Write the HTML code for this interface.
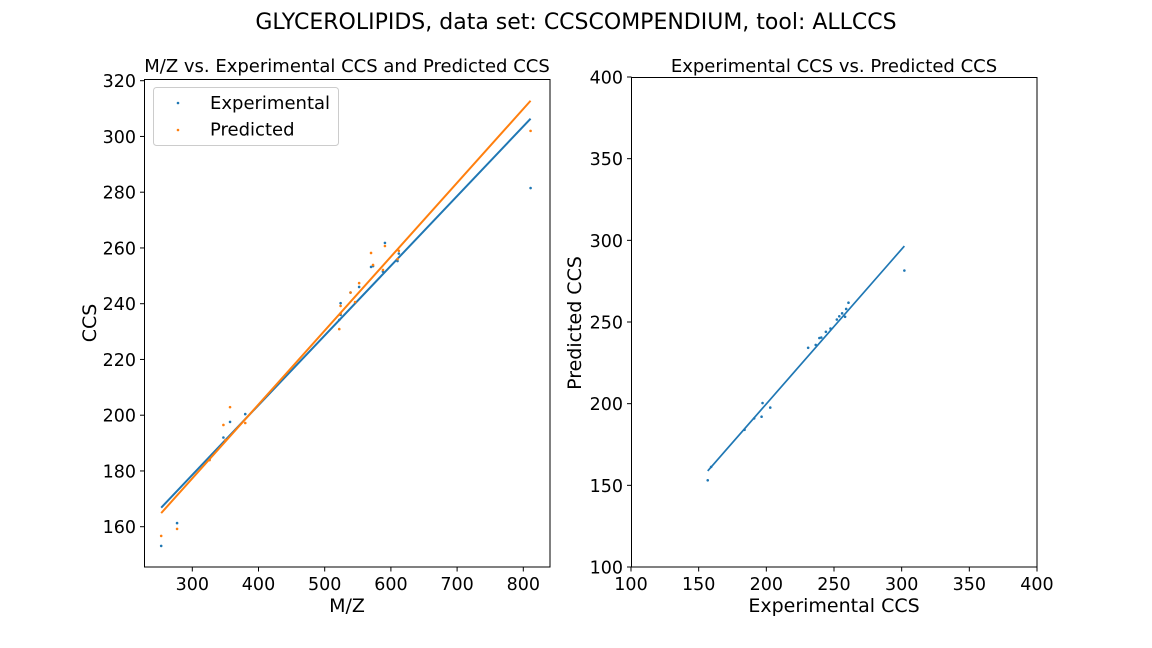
<!DOCTYPE html>
<html><head><meta charset="utf-8"><style>
html,body{margin:0;padding:0;background:#fff;}
svg{display:block;font-family:"DejaVu Sans","Liberation Sans",sans-serif;}
</style></head><body>
<svg id="fig" width="1152" height="648" viewBox="0 0 1152 648" xmlns="http://www.w3.org/2000/svg">
<rect width="1152" height="648" fill="#fff"/>
<text x="576" y="29" font-size="22" text-anchor="middle" fill="#000">GLYCEROLIPIDS, data set: CCSCOMPENDIUM, tool: ALLCCS</text>
<g id="left"></g>
<g id="right"></g>
</svg>
<script>
const mz = [253,277,326,347,350,357,380,522,524,524,539,546,552,570,573,588,591,610,612,811];
const experimental = [153.1,161.3,184,192,191,197.6,200.4,234.2,240.2,236,244,240.5,246,253.2,253.5,251.5,261.8,255.3,258,281.5];
const predicted = [156.7,159.2,183.9,196.5,191,202.9,197.2,230.9,239.2,236.5,244,240.6,247.4,258.2,253.9,252.1,260.7,256,259,302];
const leftXTicks = [300,400,500,600,700,800];
const leftYTicks = [160,180,200,220,240,260,280,300,320];
const rightTicks = [100,150,200,250,300,350,400];

const NS = "http://www.w3.org/2000/svg";
function mk(parent, tag, attrs, text){
  const e = document.createElementNS(NS, tag);
  for (const k in attrs) e.setAttribute(k, attrs[k]);
  if (text !== undefined) e.textContent = text;
  parent.appendChild(e);
  return e;
}
function fit(xs, ys){
  const n = xs.length; let sx=0,sy=0,sxx=0,sxy=0;
  for (let i=0;i<n;i++){sx+=xs[i];sy+=ys[i];sxx+=xs[i]*xs[i];sxy+=xs[i]*ys[i];}
  const b=(n*sxy-sx*sy)/(n*sxx-sx*sx); return {b:b,a:(sy-b*sx)/n};
}
const BLUE="#1f77b4", ORANGE="#ff7f0e";
const TF = 17.5, AF = 19;

// LEFT
const L = document.getElementById('left');
const lx = v => 192.3 + (v-300)*0.662;
const ly = v => 526.7 - (v-160)*2.7875;
const lf = mk(L,'rect',{x:144.5,y:79.5,width:405.5,height:487.5,fill:'none',stroke:'#000','stroke-width':1});
 
leftXTicks.forEach(t=>{
  const tl = mk(L,'line',{x1:lx(t),x2:lx(t),y1:567,y2:571.5,stroke:'#000'});
   
  const tx = mk(L,'text',{x:lx(t),y:590,'font-size':TF,'text-anchor':'middle'},t);
   
});
leftYTicks.forEach(t=>{
  const tl = mk(L,'line',{x1:140,x2:144.5,y1:ly(t),y2:ly(t),stroke:'#000'});
   
  const tx = mk(L,'text',{x:136,y:ly(t)+6.5,'font-size':TF,'text-anchor':'end'},t);
   
});
let e;
e = mk(L,'text',{x:347,y:612,'font-size':AF,'text-anchor':'middle'},'M/Z');
 
e = mk(L,'text',{x:96,y:323,'font-size':AF,'text-anchor':'middle',transform:'rotate(-90 96 323)'},'CCS');
 
e = mk(L,'text',{x:347,y:72,'font-size':18,'text-anchor':'middle'},'M/Z vs. Experimental CCS and Predicted CCS');
 

const fe = fit(mz, experimental), fp = fit(mz, predicted);
const mmin = Math.min(...mz), mmax = Math.max(...mz);
mz.forEach((m,i)=>{
  const c = mk(L,'circle',{cx:lx(m),cy:ly(experimental[i]),r:1.3,fill:BLUE});
   
});
e = mk(L,'line',{x1:lx(mmin),y1:ly(fe.a+fe.b*mmin),x2:lx(mmax),y2:ly(fe.a+fe.b*mmax),stroke:BLUE,'stroke-width':2});
 
mz.forEach((m,i)=>{
  const c = mk(L,'circle',{cx:lx(m),cy:ly(predicted[i]),r:1.3,fill:ORANGE});
   
});
e = mk(L,'line',{x1:lx(mmin),y1:ly(fp.a+fp.b*mmin),x2:lx(mmax),y2:ly(fp.a+fp.b*mmax),stroke:ORANGE,'stroke-width':2});
 

const lg = mk(L,'g',{});
 
mk(lg,'rect',{x:153.5,y:87.5,width:185,height:58,rx:3,fill:'#fff',stroke:'#ccc'});
e = mk(lg,'circle',{cx:178,cy:103,r:1.3,fill:BLUE});
 
e = mk(lg,'text',{x:210,y:109,'font-size':18},'Experimental');
 
e = mk(lg,'circle',{cx:178,cy:130,r:1.3,fill:ORANGE});
 
e = mk(lg,'text',{x:210,y:135.5,'font-size':18},'Predicted');
 

// RIGHT
const R = document.getElementById('right');
const rx = v => 631 + (v-100)*1.3533;
const ry = v => 567 - (v-100)*1.6333;
e = mk(R,'rect',{x:631.5,y:77.5,width:405.5,height:489.5,fill:'none',stroke:'#000'});
 
rightTicks.forEach(t=>{
  const a = mk(R,'line',{x1:rx(t),x2:rx(t),y1:567,y2:571.5,stroke:'#000'});
   
  const b = mk(R,'text',{x:rx(t),y:590,'font-size':TF,'text-anchor':'middle'},t);
   
  const c = mk(R,'line',{x1:627,x2:631.5,y1:ry(t),y2:ry(t),stroke:'#000'});
   
  const d = mk(R,'text',{x:623,y:ry(t)+6.5,'font-size':TF,'text-anchor':'end'},t);
   
});
e = mk(R,'text',{x:834,y:612,'font-size':AF,'text-anchor':'middle'},'Experimental CCS');
 
e = mk(R,'text',{x:581,y:323,'font-size':AF,'text-anchor':'middle',transform:'rotate(-90 581 323)'},'Predicted CCS');
 
e = mk(R,'text',{x:834,y:72,'font-size':18,'text-anchor':'middle'},'Experimental CCS vs. Predicted CCS');
 
predicted.forEach((p,i)=>{
  const c = mk(R,'circle',{cx:rx(p),cy:ry(experimental[i]),r:1.3,fill:BLUE});
   
});
const fr = fit(predicted, experimental);
const pmin = Math.min(...predicted), pmax = Math.max(...predicted);
e = mk(R,'line',{x1:rx(pmin),y1:ry(fr.a+fr.b*pmin),x2:rx(pmax),y2:ry(fr.a+fr.b*pmax),stroke:BLUE,'stroke-width':1.7});
 
</script>
</body></html>
